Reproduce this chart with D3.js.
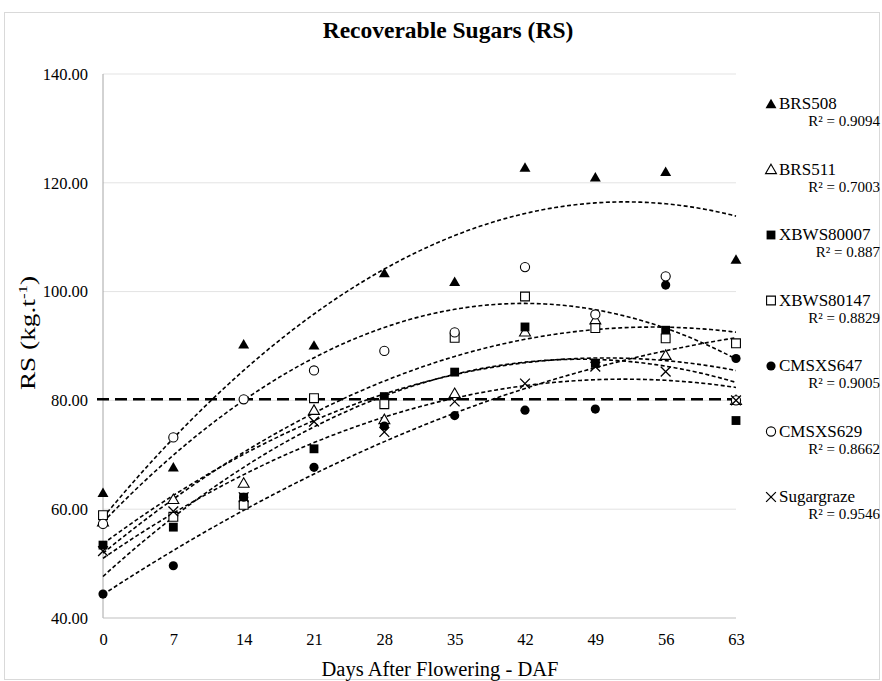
<!DOCTYPE html>
<html><head><meta charset="utf-8">
<script src="https://cdn.jsdelivr.net/npm/d3@7"></script>
<style>body{margin:0;background:#fff}svg{display:block}text{font-family:"Liberation Serif","DejaVu Serif",serif;fill:#000}</style>
</head><body>
<script>
const days = [0,7,14,21,28,35,42,49,56,63];
const seriesNames = ["BRS508","BRS511","XBWS80007","XBWS80147","CMSXS647","CMSXS629","Sugargraze"];
const rSquared = ["0.9094","0.7003","0.887","0.8829","0.9005","0.8662","0.9546"];
const BRS508     = [63.0, 67.7, 90.3, 90.1, 103.4, 101.8, 122.8, 121.0, 122.0, 105.9];
const BRS511     = [57.7, 61.8, 64.8, 78.2, 76.5, 81.3, 92.6, 94.8, 88.3, 80.0];
const XBWS80007  = [53.4, 56.7, 62.2, 71.1, 80.7, 85.2, 93.5, 86.8, 92.9, 76.3];
const XBWS80147  = [58.9, 58.6, 60.8, 80.4, 79.3, 91.5, 99.1, 93.3, 91.4, 90.5];
const CMSXS647   = [44.4, 49.6, 62.2, 67.7, 75.3, 77.2, 78.2, 78.4, 101.2, 87.7];
const CMSXS629   = [57.3, 73.2, 80.2, 85.5, 89.1, 92.5, 104.5, 95.8, 102.8, 80.0];
const Sugargraze = [52.3, 59.6, 62.2, 76.1, 74.2, 79.8, 83.1, 86.2, 85.3, 80.0];
const averageRS = 80.2;
const yTicks = [40,60,80,100,120,140];

const seriesValues = [BRS508,BRS511,XBWS80007,XBWS80147,CMSXS647,CMSXS629,Sugargraze];
const markerTypes = ["triFill","triOpen","sqFill","sqOpen","cirFill","cirOpen","times"];
const FONT = '"Liberation Serif","DejaVu Serif",serif';

const W=882,H=681;
const svg=d3.select("body").append("svg").attr("width",W).attr("height",H);
svg.append("rect").attr("x",4.5).attr("y",12.5).attr("width",875).attr("height",667).attr("fill","none").attr("stroke","#d9d9d9");

const x=d3.scaleLinear().domain([0,63]).range([103,736]);
const y=d3.scaleLinear().domain([40,140]).range([618,74]);

svg.append("g").selectAll("line").data(yTicks.filter(d=>d>40)).join("line")
 .attr("x1",103).attr("x2",736).attr("y1",d=>y(d)).attr("y2",d=>y(d))
 .attr("stroke","#e3e3e3").attr("stroke-width",1);
svg.append("line").attr("x1",103).attr("x2",103).attr("y1",74).attr("y2",618).attr("stroke","#a6a6a6");
svg.append("line").attr("x1",103).attr("x2",736).attr("y1",618).attr("y2",618).attr("stroke","#bfbfbf");

const yAxis=d3.axisLeft(y).tickValues(yTicks).tickFormat(d3.format(".2f")).tickSize(0).tickPadding(15);
const gy=svg.append("g").attr("transform","translate(103,0)").call(yAxis);
gy.select(".domain").remove();
gy.selectAll("text").style("font-family",FONT).style("font-size","16.5px").attr("fill","#000");

const xAxis=d3.axisBottom(x).tickValues(days).tickSize(0).tickPadding(15.5);
const gx=svg.append("g").attr("transform","translate(0,618)").call(xAxis);
gx.select(".domain").remove();
gx.selectAll("text").style("font-family",FONT).style("font-size","16.5px").attr("fill","#000");

svg.append("text").attr("x",448).attr("y",38).attr("text-anchor","middle").attr("font-weight","bold")
  .style("font-family",FONT).attr("font-size","23.5px").text("Recoverable Sugars (RS)");
svg.append("text").attr("x",440).attr("y",676).attr("text-anchor","middle")
  .style("font-family",FONT).attr("font-size","20.5px").text("Days After Flowering - DAF");
const yl=svg.append("text").attr("transform","translate(35,333) rotate(-90) scale(1.3,1)").attr("text-anchor","middle")
  .style("font-family",FONT).attr("font-size","21px");
yl.append("tspan").text("RS (kg.t");
yl.append("tspan").attr("dy",-8).attr("font-size","13px").text("-1");
yl.append("tspan").attr("dy",8).text(")");

// order-2 polynomial least-squares trendline computed from each series
function quadFit(xs,ys){
  let s=[0,0,0,0,0], t=[0,0,0];
  xs.forEach((xv,i)=>{let p=1;for(let k=0;k<5;k++){s[k]+=p;if(k<3)t[k]+=p*ys[i];p*=xv;}});
  const A=[[s[0],s[1],s[2],t[0]],[s[1],s[2],s[3],t[1]],[s[2],s[3],s[4],t[2]]];
  for(let i=0;i<3;i++){for(let j=i+1;j<3;j++){const f=A[j][i]/A[i][i];for(let k=i;k<4;k++)A[j][k]-=f*A[i][k];}}
  const c=[0,0,0];
  for(let i=2;i>=0;i--){let v=A[i][3];for(let k=i+1;k<3;k++)v-=A[i][k]*c[k];c[i]=v/A[i][i];}
  return xv=>c[0]+c[1]*xv+c[2]*xv*xv;
}
const line=d3.line().x(d=>x(d[0])).y(d=>y(d[1]));
const fineX=d3.range(0,63.01,0.5);
const trendG=svg.append("g");
seriesValues.forEach(vals=>{
  const f=quadFit(days,vals);
  trendG.append("path").attr("d",line(fineX.map(t=>[t,f(t)]))).attr("fill","none")
   .attr("stroke","#000").attr("stroke-width",1.6).attr("stroke-dasharray","4,2.5");
});
svg.append("line").attr("x1",97).attr("x2",736).attr("y1",y(averageRS)).attr("y2",y(averageRS))
  .attr("stroke","#000").attr("stroke-width",2.6).attr("stroke-dasharray","12,6");

function drawMarker(g,type,cx,cy){
  const sym=d3.symbol();
  let el;
  if(type.startsWith("tri")){
    el=g.append("path").attr("d",sym.type(d3.symbolTriangle).size(52)()).attr("transform",`translate(${cx},${cy+1})`);
  }else if(type.startsWith("sq")){
    el=g.append("path").attr("d",sym.type(d3.symbolSquare).size(78)()).attr("transform",`translate(${cx},${cy})`);
  }else if(type.startsWith("cir")){
    el=g.append("path").attr("d",sym.type(d3.symbolCircle).size(66)()).attr("transform",`translate(${cx},${cy})`);
  }else{
    g.append("path").attr("d",sym.type(d3.symbolTimes).size(64)()).attr("transform",`translate(${cx},${cy})`)
      .attr("fill","none").attr("stroke","#000").attr("stroke-width",1.3);
    return;
  }
  if(type.endsWith("Fill")) el.attr("fill","#000");
  else el.attr("fill","#fff").attr("stroke","#000").attr("stroke-width",1.1);
}
const markG=svg.append("g");
seriesValues.forEach((vals,si)=>{
  vals.forEach((v,i)=>drawMarker(markG,markerTypes[si],x(days[i]),y(v)));
});

const legG=svg.append("g");
seriesNames.forEach((name,i)=>{
  const cy=104+i*65.5;
  drawMarker(legG,markerTypes[i],771,cy);
  legG.append("text").attr("x",779).attr("y",cy+5).style("font-family",FONT).attr("font-size","17px").text(name);
  legG.append("text").attr("x",880).attr("y",cy+22).attr("text-anchor","end").style("font-family",FONT).attr("font-size","15px").text("R² = "+rSquared[i]);
});
</script>
</body></html>
